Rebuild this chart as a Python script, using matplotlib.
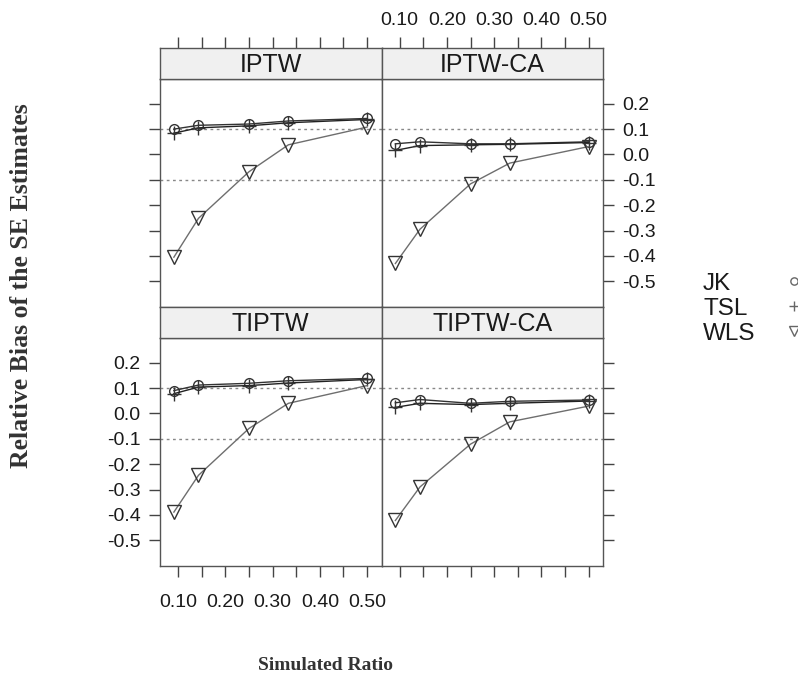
import matplotlib
matplotlib.use("Agg")
import matplotlib.pyplot as plt
from matplotlib.lines import Line2D

# Simulated treatment ratios (1:10, 1:6, 1:3, 1:2, 1:1)
ratio = [0.0909, 0.1429, 0.25, 0.3333, 0.50]

panel_names = ["IPTW", "IPTW-CA", "TIPTW", "TIPTW-CA"]
series_names = ["JK", "TSL", "WLS"]

# Relative bias of SE estimates, one list per panel and estimator
iptw_jk = [0.100, 0.115, 0.120, 0.132, 0.142]
iptw_tsl = [0.084, 0.105, 0.113, 0.125, 0.138]
iptw_wls = [-0.405, -0.252, -0.068, 0.038, 0.108]

iptwca_jk = [0.042, 0.050, 0.042, 0.042, 0.050]
iptwca_tsl = [0.016, 0.035, 0.038, 0.040, 0.047]
iptwca_wls = [-0.430, -0.295, -0.116, -0.034, 0.031]

tiptw_jk = [0.090, 0.112, 0.119, 0.129, 0.138]
tiptw_tsl = [0.078, 0.104, 0.110, 0.120, 0.134]
tiptw_wls = [-0.389, -0.244, -0.059, 0.040, 0.110]

tiptwca_jk = [0.042, 0.055, 0.040, 0.048, 0.053]
tiptwca_tsl = [0.024, 0.040, 0.035, 0.040, 0.049]
tiptwca_wls = [-0.422, -0.290, -0.121, -0.033, 0.029]

x_ticks = [0.10, 0.15, 0.20, 0.25, 0.30, 0.35, 0.40, 0.45, 0.50]
x_ticklabels = ["0.10", "", "0.20", "", "0.30", "", "0.40", "", "0.50"]
y_ticks = [0.2, 0.1, 0.0, -0.1, -0.2, -0.3, -0.4, -0.5]
y_ticklabels = ["0.2", "0.1", "0.0", "-0.1", "-0.2", "-0.3", "-0.4", "-0.5"]
ref_lines = [0.1, -0.1]

panel_data = {
    "IPTW": (iptw_jk, iptw_tsl, iptw_wls),
    "IPTW-CA": (iptwca_jk, iptwca_tsl, iptwca_wls),
    "TIPTW": (tiptw_jk, tiptw_tsl, tiptw_wls),
    "TIPTW-CA": (tiptwca_jk, tiptwca_tsl, tiptwca_wls),
}

W, H = 798, 682
fig = plt.figure(figsize=(W / 100, H / 100), dpi=100)
sans = ["Liberation Sans", "DejaVu Sans"]
serif = ["Liberation Serif", "DejaVu Serif"]

frame_col = "#555555"
tick_col = "#444444"
text_col = "#1a1a1a"

col_x = [160.0, 381.5]
panel_w = 221.5
row_top = [79.0, 338.0]
panel_h = 228.0
strip_h = 31.0

xlim = (0.0615, 0.5305)
ylim = (-0.6016, 0.2976)

tick_len = 8
tick_fs = 14

styles = {
    "JK": dict(marker="o", ms=7, mfc="none", mec="#333333", color="#333333", lw=1.0, mew=1.0),
    "TSL": dict(marker="+", ms=10, mec="#333333", color="#222222", lw=1.0, mew=1.0),
    "WLS": dict(marker="v", ms=10, mfc="none", mec="#333333", color="#6e6e6e", lw=1.0, mew=1.0),
}

for idx, name in enumerate(panel_names):
    r, c = divmod(idx, 2)
    x0 = col_x[c]
    yt = row_top[r]
    ax = fig.add_axes([x0 / W, 1 - (yt + panel_h) / H, panel_w / W, panel_h / H])
    st = fig.add_axes([x0 / W, 1 - yt / H, panel_w / W, strip_h / H])

    for yv in ref_lines:
        ax.axhline(yv, color="#888888", lw=1.0, ls=(0, (2, 2.5)), zorder=1)

    for sname, vals in zip(series_names, panel_data[name]):
        ax.plot(ratio, vals, zorder=3, **styles[sname])

    ax.set_xlim(*xlim)
    ax.set_ylim(*ylim)
    for sp in ax.spines.values():
        sp.set_color(frame_col)
        sp.set_linewidth(1.0)

    ax.set_xticks(x_ticks)
    ax.set_yticks(y_ticks)
    ax.tick_params(direction="out", length=tick_len, width=1.0, color=tick_col,
                   labelsize=tick_fs, labelcolor=text_col)
    # lattice-style alternating axes
    ax.tick_params(axis="x", top=False, bottom=(r == 1),
                   labelbottom=(r == 1 and c == 0), pad=12)
    ax.tick_params(axis="y", left=(c == 0), labelleft=(c == 0 and r == 1),
                   right=(c == 1), labelright=(c == 1 and r == 0), pad=6)
    ax.set_xticklabels(x_ticklabels, family=sans)
    ax.set_yticklabels(y_ticklabels, family=sans)

    # strip
    st.set_facecolor("#f0f0f0")
    st.set_xlim(*xlim)
    st.set_ylim(0, 1)
    st.set_yticks([])
    for sp in st.spines.values():
        sp.set_color(frame_col)
        sp.set_linewidth(1.0)
    st.set_xticks(x_ticks)
    st.tick_params(axis="x", direction="out", length=tick_len, width=1.0, color=tick_col,
                   bottom=False, labelbottom=False,
                   top=(r == 0), labeltop=(r == 0 and c == 1),
                   labelsize=tick_fs, labelcolor=text_col, pad=6)
    st.set_xticklabels(x_ticklabels, family=sans)
    st.text(0.5, 0.45, name, transform=st.transAxes, ha="center", va="center",
            fontsize=18, family=sans, color=text_col)

# legend
leg_text_x = 703
leg_mark_x = 794
leg_rows = [284, 309, 334]
for sname, yp in zip(series_names, leg_rows):
    fig.text(leg_text_x / W, 1 - yp / H, sname, ha="left", va="center",
             fontsize=17.5, family=sans, color=text_col)
    st_kw = dict(styles[sname])
    st_kw["ms"] = st_kw["ms"] * 0.75
    st_kw["mec"] = "#666666"
    st_kw.pop("lw")
    st_kw.pop("color")
    fig.add_artist(Line2D([leg_mark_x / W], [1 - (yp - 3) / H], transform=fig.transFigure,
                          linestyle="none", **st_kw))

fig.text(22 / W, 1 - 286 / H, "Relative Bias of the SE Estimates", rotation=90,
         ha="center", va="center", fontsize=18.5, fontweight="bold",
         family=serif, color="#333333")
fig.text(325 / W, 1 - 665 / H, "Simulated Ratio", ha="center", va="center",
         fontsize=14, fontweight="bold", family=serif, color="#333333")

fig.savefig("out.png", dpi=100)
